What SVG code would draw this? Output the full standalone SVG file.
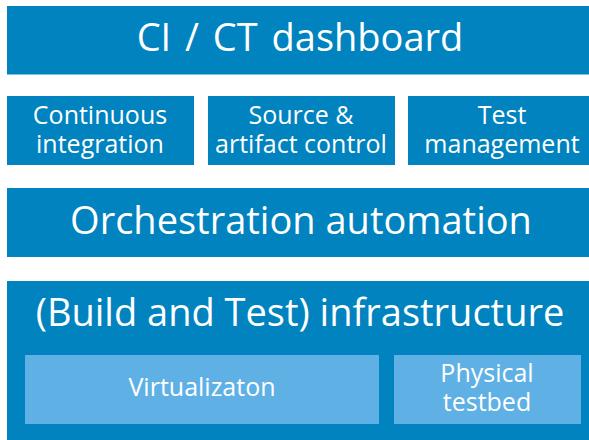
<svg xmlns="http://www.w3.org/2000/svg" width="589" height="440" viewBox="0 0 589 440">
<style>
.d{fill:#0083be}
.l{fill:#5eb0e5}
text{font-family:"Open Sans",Lato,sans-serif;fill:#fff;text-anchor:middle}
.b{font-size:38px}
.s{font-size:25px}
</style>
<rect width="589" height="440" fill="#fff"/>
<g id="dashboard"><rect class="d" x="7" y="6" width="582" height="68.5"/><text class="b" x="300" y="51" word-spacing="4">CI / CT dashboard</text></g>
<g id="ci"><rect class="d" x="7" y="96" width="187" height="69"/><text class="s" x="100" y="123.5">Continuous</text><text class="s" x="100" y="152.5">integration</text></g>
<g id="source"><rect class="d" x="208" y="96" width="187" height="69"/><text class="s" x="301" y="123.5">Source &amp;</text><text class="s" x="301" y="152.5">artifact control</text></g>
<g id="test"><rect class="d" x="408" y="96" width="181" height="69"/><text class="s" x="502" y="123.5">Test</text><text class="s" x="502" y="152.5">management</text></g>
<g id="orchestration"><rect class="d" x="7" y="188" width="582" height="69"/><text class="b" x="301" y="234">Orchestration automation</text></g>
<g id="infra"><rect class="d" x="7" y="281" width="582" height="159"/><text class="b" x="300" y="326">(Build and Test) infrastructure</text></g>
<g id="virtualization"><rect class="l" x="25" y="355" width="354" height="69"/><text class="s" x="202" y="396">Virtualizaton</text></g>
<g id="physical"><rect class="l" x="394" y="355" width="187" height="69"/><text class="s" x="487" y="382">Physical</text><text class="s" x="487" y="411">testbed</text></g>
<g id="connectors"/>
</svg>
